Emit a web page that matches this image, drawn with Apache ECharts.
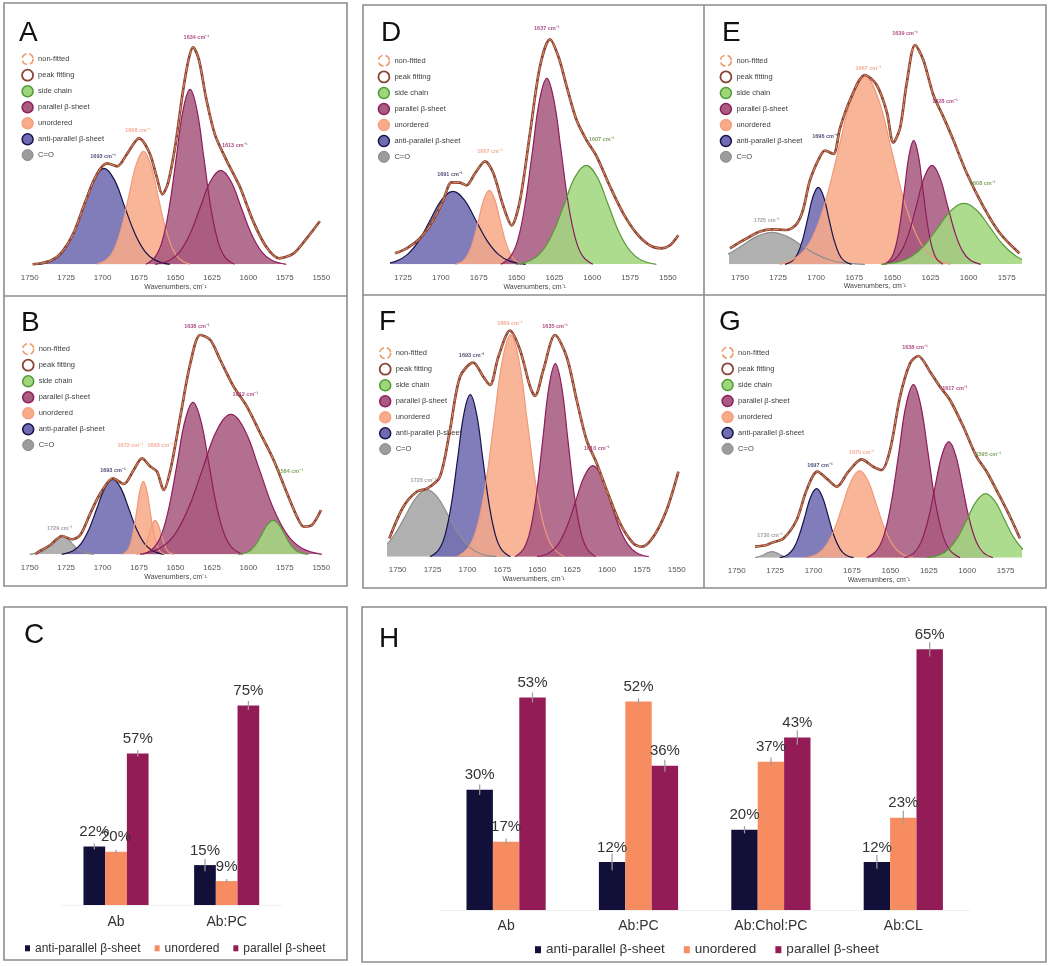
<!DOCTYPE html>
<html><head><meta charset="utf-8">
<script src="https://cdn.jsdelivr.net/npm/echarts@6/dist/echarts.min.js"></script>
<style>html,body{margin:0;padding:0;background:#fff}#chart{width:1050px;height:966px}</style>
</head><body><div id="chart"></div>
<script>
// ---------------- DATA: spectra ([wavenumber, intensity]) ----------------
const ticksAB = [1750,1725,1700,1675,1650,1625,1600,1575,1550];
const ticksD = [1725,1700,1675,1650,1625,1600,1575,1550];
const ticksE = [1750,1725,1700,1675,1650,1625,1600,1575];
const ticksF = [1750,1725,1700,1675,1650,1625,1600,1575,1550];
const ticksG = [1750,1725,1700,1675,1650,1625,1600,1575];

const A_anti = [[1744,0],[1734,4.2],[1727,13],[1720,31.2],[1713,58.2],[1706,84.7],[1699,96],[1692,84.7],[1685,58.2],[1678,31.2],[1671,13],[1664,4.2],[1654,0]];
const A_unord = [[1704,0],[1697,5],[1692,15.3],[1687,36.7],[1682,68.5],[1677,99.7],[1672,113],[1667,99.7],[1662,68.5],[1657,36.7],[1652,15.3],[1647,5],[1640,0]];
const A_par1 = [[1670.4,0],[1663.8,7.7],[1659,23.7],[1654.3,56.8],[1649.5,106.1],[1644.8,154.4],[1640,175],[1635.3,154.4],[1630.5,106.1],[1625.8,56.8],[1621,23.7],[1616.3,7.7],[1609.6,0]];
const A_par2 = [[1664,0],[1654,4.1],[1647,12.7],[1640,30.5],[1633,57],[1626,83],[1619,94],[1612,83],[1605,57],[1598,30.5],[1591,12.7],[1584,4.1],[1574,0]];
const A_total = [[1748,0],[1742,1],[1735,4],[1728,12],[1720,31],[1712,62],[1704,90],[1697,101],[1690,98],[1683,111],[1675,126],[1668,112],[1663,88],[1659,70],[1655,82],[1650,120],[1645,172],[1641,205],[1638,217],[1634,205],[1629,166],[1623,130],[1615,104],[1606,78],[1597,44],[1588,18],[1579,6],[1569,11],[1560,26],[1551,43]];
const A_labels = [[1699.7,108,'1693 cm⁻¹','anti'],[1675.7,134,'1668 cm⁻¹','unord'],[1635.7,227,'1634 cm⁻¹','par'],[1609.4,119,'1613 cm⁻¹','par']];

const B_co = [[1750,0],[1742,2.4],[1738.5,5.8],[1735,10.9],[1731.5,15.9],[1728,18],[1724.5,15.9],[1721,10.9],[1717.5,5.8],[1714,2.4],[1706,0]];
const B_anti = [[1728,0],[1720.5,3.3],[1715,10.1],[1709.5,24.4],[1704,45.5],[1698.5,66.2],[1693,75],[1687.5,66.2],[1682,45.5],[1676.5,24.4],[1671,10.1],[1665.5,3.3],[1658,0]];
const B_unord1 = [[1686.4,0],[1683.3,3.2],[1681,9.9],[1678.8,23.7],[1676.5,44.3],[1674.3,64.4],[1672,73],[1669.8,64.4],[1667.5,44.3],[1665.3,23.7],[1663,9.9],[1660.8,3.2],[1657.6,0]];
const B_unord2 = [[1677,0],[1674,1.5],[1672,4.6],[1670,11.1],[1668,20.8],[1666,30],[1664,34],[1662,30],[1660,20.8],[1658,11.1],[1656,4.6],[1654,1.5],[1651,0]];
const B_par1 = [[1672.2,0],[1664.8,6.7],[1659.4,20.6],[1654.1,49.4],[1648.7,92.2],[1643.4,134.1],[1638,152],[1632.7,134.1],[1627.3,92.2],[1622,49.4],[1616.6,20.6],[1611.3,6.7],[1603.8,0]];
const B_par2 = [[1674.4,0],[1660.8,6.1],[1651,18.9],[1641.3,45.5],[1631.5,84.9],[1621.8,123.6],[1612,140],[1602.3,123.6],[1592.5,84.9],[1582.8,45.5],[1573,18.9],[1563.3,6.1],[1549.6,0]];
const B_side = [[1607,0],[1601.8,1.5],[1598,4.6],[1594.3,11.1],[1590.5,20.8],[1586.8,30],[1583,34],[1579.3,30],[1575.5,20.8],[1571.8,11.1],[1568,4.6],[1564.3,1.5],[1559,0]];
const B_total = [[1746,0],[1743.8,2.7],[1735.8,9.3],[1727.8,18.3],[1721,15],[1715.3,19.3],[1708.4,41],[1701.5,61],[1692.9,76],[1685.5,70.3],[1678.7,84.3],[1673,96],[1667.3,87.7],[1662.7,82.7],[1658.1,64.3],[1653.5,84.3],[1646.7,137.7],[1639.8,191],[1633,219.3],[1626.1,214.3],[1619.3,194.3],[1610.1,167.7],[1601,147.7],[1591.8,121],[1582.7,94.3],[1573.5,61],[1566.7,37.7],[1562.1,27.7],[1556.4,29.3],[1550.2,44.3]];
const B_labels = [[1729.4,26,'1729 cm⁻¹','co'],[1692.9,84.3,'1693 cm⁻¹','anti'],[1681,109.3,'1672 cm⁻¹','unord'],[1660.4,109.3,'1663 cm⁻¹','unord'],[1635.3,227.7,'1638 cm⁻¹','par'],[1602.1,160.3,'1612 cm⁻¹','par'],[1571.3,83.3,'1584 cm⁻¹','side']];

const D_anti = [[1740,0],[1729.5,3.2],[1722,9.9],[1714.5,23.7],[1707,44.3],[1699.5,64.4],[1692,73],[1684.5,64.4],[1677,44.3],[1669.5,23.7],[1662,9.9],[1654.5,3.2],[1644,0]];
const D_unord = [[1690.4,0],[1685.5,3.2],[1682,10],[1678.5,24],[1675,44.9],[1671.5,65.3],[1668,74],[1664.5,65.3],[1661,44.9],[1657.5,24],[1654,10],[1650.5,3.2],[1645.6,0]];
const D_par = [[1660.4,0],[1653.8,8.2],[1649,25.2],[1644.3,60.4],[1639.5,112.8],[1634.8,164.1],[1630,186],[1625.3,164.1],[1620.5,112.8],[1615.8,60.4],[1611,25.2],[1606.3,8.2],[1599.6,0]];
const D_side = [[1650.4,0],[1640.3,4.3],[1633,13.4],[1625.8,32.1],[1618.5,60],[1611.3,87.4],[1604,99],[1596.8,87.4],[1589.5,60],[1582.3,32.1],[1575,13.4],[1567.8,4.3],[1557.6,0]];
const D_total = [[1730.3,11],[1722.6,16],[1713.8,26],[1705,44],[1698.4,64],[1692.9,82],[1687.4,81.7],[1683,79],[1677.4,91],[1670.8,103],[1665.3,91],[1658.7,58],[1653.2,39],[1647.7,64],[1641.1,131],[1634.5,198],[1627.9,225],[1622.4,208],[1616.9,178],[1610.3,144],[1603.7,124],[1597.1,108],[1588.3,78],[1579.5,51],[1570.7,31],[1561.9,19],[1554.2,16],[1548.6,19],[1543.1,29]];
const D_labels = [[1694,90,'1691 cm⁻¹','anti'],[1667.5,113,'1667 cm⁻¹','unord'],[1630,236,'1637 cm⁻¹','par'],[1593.8,125,'1607 cm⁻¹','side']];

const E_co = [[1790,0],[1776.5,1.4],[1767,4.3],[1757.5,10.4],[1748,19.4],[1738.5,28.2],[1729,32],[1719.5,28.2],[1710,19.4],[1700.5,10.4],[1691,4.3],[1681.5,1.4],[1668,0]];
const E_anti = [[1720.4,0],[1715.6,3.4],[1712.2,10.4],[1708.8,25],[1705.4,46.7],[1702,68],[1698.6,77],[1695.2,68],[1691.8,46.7],[1688.4,25],[1685,10.4],[1681.6,3.4],[1676.8,0]];
const E_unord = [[1724,0],[1711.8,8.3],[1703,25.4],[1694.3,61],[1685.5,114],[1676.8,165.9],[1668,188],[1659.3,165.9],[1650.5,114],[1641.8,61],[1633,25.4],[1624.3,8.3],[1612,0]];
const E_par1 = [[1655.2,0],[1651,5.4],[1648,16.8],[1645,40.3],[1642,75.2],[1639,109.4],[1636,124],[1633,109.4],[1630,75.2],[1627,40.3],[1624,16.8],[1621,5.4],[1616.8,0]];
const E_par2 = [[1656,0],[1649,4.3],[1644,13.4],[1639,32.1],[1634,60],[1629,87.4],[1624,99],[1619,87.4],[1614,60],[1609,32.1],[1604,13.4],[1599,4.3],[1592,0]];
const E_side = [[1657.4,0],[1645.5,2.7],[1637,8.3],[1628.5,19.8],[1620,37],[1611.5,53.8],[1603,61],[1594.5,53.8],[1586,37],[1577.5,19.8],[1569,8.3],[1560.5,2.7],[1548.6,0]];
const E_total = [[1756.6,16],[1747.8,24],[1736.9,32.7],[1729.2,35],[1719.4,34.3],[1713,40],[1708.5,55],[1704.1,84],[1697.5,107.7],[1694.2,113.7],[1688.7,110.3],[1684.4,136],[1677.8,164.3],[1668,189.3],[1660.3,179.3],[1653.7,152.7],[1649.4,121.7],[1645,136],[1640.6,181],[1635.1,219.3],[1629.7,204.3],[1623.1,169.3],[1616.6,147.7],[1610,124.3],[1601.2,91],[1590.3,57.7],[1579.4,31],[1566.7,11]];
const E_labels = [[1732.5,43.7,'1725 cm⁻¹','co'],[1694.2,127.7,'1696 cm⁻¹','anti'],[1665.8,196,'1667 cm⁻¹','unord'],[1641.7,231,'1639 cm⁻¹','par'],[1615.5,162.7,'1628 cm⁻¹','par'],[1590.7,81,'1608 cm⁻¹','side']];

const F_co = [[1778.6,0],[1767.8,2.9],[1760,9.1],[1752.3,21.8],[1744.5,40.6],[1736.8,59.1],[1729,67],[1721.3,59.1],[1713.5,40.6],[1705.8,21.8],[1698,9.1],[1690.3,2.9],[1679.4,0]];
const F_anti = [[1726.8,0],[1720.5,7.1],[1716,21.9],[1711.5,52.6],[1707,98.3],[1702.5,143],[1698,162],[1693.5,143],[1689,98.3],[1684.5,52.6],[1680,21.9],[1675.5,7.1],[1669.2,0]];
const F_unord = [[1707.4,0],[1699,9.7],[1693,30],[1687,72.1],[1681,134.6],[1675,195.9],[1669,222],[1663,195.9],[1657,134.6],[1651,72.1],[1645,30],[1639,9.7],[1630.6,0]];
const F_par1 = [[1665.8,0],[1659.5,8.5],[1655,26.1],[1650.5,62.7],[1646,117.1],[1641.5,170.3],[1637,193],[1632.5,170.3],[1628,117.1],[1623.5,62.7],[1619,26.1],[1614.5,8.5],[1608.2,0]];
const F_par2 = [[1650,0],[1641.3,4],[1635,12.3],[1628.8,29.5],[1622.5,55.2],[1616.3,80.3],[1610,91],[1603.8,80.3],[1597.5,55.2],[1591.3,29.5],[1585,12.3],[1578.8,4],[1570,0]];
const F_total = [[1756,18.3],[1745.9,50],[1736.4,65],[1728.7,68.3],[1719.7,80],[1712.5,126.7],[1705.3,180],[1695.8,194],[1688.6,180],[1683.8,171.7],[1677.8,200],[1669.5,226],[1662.3,206.7],[1655.1,170],[1651.6,160.7],[1645.6,186.7],[1637.2,221.7],[1628.9,200],[1621.7,156.7],[1614.6,116.7],[1607.3,93.3],[1600.2,66.7],[1590.6,33.3],[1581.1,13.3],[1575.1,10],[1566.7,20],[1557.2,46.7],[1548.8,85]];
const F_labels = [[1731.6,76.7,'1723 cm⁻¹','co'],[1697,201.7,'1693 cm⁻¹','anti'],[1669.5,233.3,'1669 cm⁻¹','unord'],[1637.2,230,'1635 cm⁻¹','par'],[1607.3,108.3,'1610 cm⁻¹','par']];

const G_co = [[1738,0],[1733,2.5],[1730,4.8],[1727,6],[1724,4.8],[1721,2.5],[1716,0]];
const G_anti = [[1722,0],[1716.8,3],[1713,9.3],[1709.3,22.4],[1705.5,41.9],[1701.8,60.9],[1698,69],[1694.3,60.9],[1690.5,41.9],[1686.8,22.4],[1683,9.3],[1679.3,3],[1674,0]];
const G_unord = [[1705.2,0],[1697.5,3.8],[1692,11.8],[1686.5,28.2],[1681,52.8],[1675.5,76.8],[1670,87],[1664.5,76.8],[1659,52.8],[1653.5,28.2],[1648,11.8],[1642.5,3.8],[1634.8,0]];
const G_par1 = [[1665.4,0],[1658.8,7.6],[1654,23.4],[1649.3,56.2],[1644.5,104.9],[1639.8,152.7],[1635,173],[1630.3,152.7],[1625.5,104.9],[1620.8,56.2],[1616,23.4],[1611.3,7.6],[1604.6,0]];
const G_par2 = [[1640.8,0],[1634.5,5.1],[1630,15.7],[1625.5,37.7],[1621,70.4],[1616.5,102.4],[1612,116],[1607.5,102.4],[1603,70.4],[1598.5,37.7],[1594,15.7],[1589.5,5.1],[1583.2,0]];
const G_side = [[1626.4,0],[1618,2.8],[1612,8.7],[1606,20.8],[1600,38.8],[1594,56.5],[1588,64],[1582,56.5],[1576,38.8],[1570,20.8],[1564,8.7],[1558,2.8],[1549.6,0]];
const G_total = [[1738.1,11],[1730.5,12.7],[1727.2,15],[1719.6,19.3],[1711,37.7],[1704.5,67.7],[1697.5,86],[1690.4,77.7],[1684.9,71],[1677.3,86],[1668.7,98.3],[1661.1,91],[1655.7,87.7],[1650.2,107.7],[1643.7,161],[1637.2,194.3],[1631.8,201.7],[1624.2,186],[1617.7,171],[1611.2,157.7],[1602.5,131],[1593.9,101],[1587.3,86],[1578.7,61],[1571.1,37.7],[1565.7,19.3]];
const G_labels = [[1728.3,22.7,'1730 cm⁻¹','co'],[1695.8,92,'1697 cm⁻¹','anti'],[1668.7,105,'1670 cm⁻¹','unord'],[1634,210.3,'1638 cm⁻¹','par'],[1608,169.3,'1617 cm⁻¹','par'],[1586.3,103.3,'1595 cm⁻¹','side']];

// ---------------- DATA: bar charts (%) ----------------
const C_categories = ['Ab','Ab:PC'];
const C_anti = [22, 15];
const C_unord = [20, 9];
const C_par = [57, 75];
const C_anti_err = [1.1, 2.3];
const C_unord_err = [0.8, 0.8];
const C_par_err = [1.2, 1.7];

const H_categories = ['Ab','Ab:PC','Ab:Chol:PC','Ab:CL'];
const H_anti = [30, 12, 20, 12];
const H_unord = [17, 52, 37, 23];
const H_par = [53, 36, 43, 65];
const H_anti_err = [1.3, 2.1, 0.9, 1.7];
const H_unord_err = [0.8, 0.8, 1.0, 1.8];
const H_par_err = [1.25, 1.5, 1.8, 1.8];

// ---------------- STYLE / LAYOUT ----------------
const FONT = "'Liberation Sans', Arial, sans-serif";
const KIND = {
  co:    {name:'C=O', area:'#a6a6a6', line:'#8e8e8e', label:'#8a8a8a'},
  anti:  {name:'anti-parallel β-sheet', area:'#6f6bb0', line:'#16134a', label:'#1f1c55'},
  unord: {name:'unordered', area:'#f7ab8a', line:'#f09a7c', label:'#f0967a'},
  par:   {name:'parallel β-sheet', area:'#a95b80', line:'#8d1d5c', label:'#9a2468'},
  side:  {name:'side chain', area:'#a3d77f', line:'#5a9a3c', label:'#5c8c34'}
};
const YMAX = 240;
const panels = [
  {left:29.7, width:291.6, base:264.3, xMin:1550, xMax:1750, ticks:ticksAB, nameGap:19,
   comps:[['anti',A_anti],['unord',A_unord],['par',A_par1],['par',A_par2]], total:A_total, labels:A_labels, legend:[21.2,52.8]},
  {left:29.7, width:291.6, base:554.3, xMin:1550, xMax:1750, ticks:ticksAB, nameGap:19,
   comps:[['co',B_co],['anti',B_anti],['unord',B_unord1],['unord',B_unord2],['par',B_par1],['par',B_par2],['side',B_side]], total:B_total, labels:B_labels, legend:[21.8,342.8]},
  {left:390.9, width:287.6, base:264.3, xMin:1543, xMax:1733, ticks:ticksD, nameGap:19,
   comps:[['anti',D_anti],['unord',D_unord],['par',D_par],['side',D_side]], total:D_total, labels:D_labels, legend:[377.5,54.5]},
  {left:729.3, width:291.1, base:264.3, xMin:1566, xMax:1757, ticks:ticksE, nameGap:17,
   comps:[['co',E_co],['anti',E_anti],['unord',E_unord],['par',E_par1],['par',E_par2],['side',E_side]], total:E_total, labels:E_labels, legend:[719.5,54.5]},
  {left:387.9, width:291.6, base:556.7, xMin:1548, xMax:1757, ticks:ticksF, nameGap:19,
   comps:[['co',F_co],['anti',F_anti],['unord',F_unord],['par',F_par1],['par',F_par2]], total:F_total, labels:F_labels, legend:[378.8,346.8]},
  {left:736.7, width:284.3, base:557.7, xMin:1565, xMax:1750, ticks:ticksG, nameGap:19,
   comps:[['co',G_co],['anti',G_anti],['unord',G_unord],['par',G_par1],['par',G_par2],['side',G_side]], total:G_total, labels:G_labels, legend:[721.2,346.5]}
];

const spectrumLegendData = [
  {name:'non-fitted', icon:'circle', itemStyle:{color:'#ffffff', borderColor:'#ee9a6c', borderWidth:1.5, borderType:'dashed'}},
  {name:'peak fitting', icon:'circle', itemStyle:{color:'#ffffff', borderColor:'#8b4434', borderWidth:1.8, borderType:'solid'}},
  {name:'side chain', icon:'circle', itemStyle:{color:'#9fd67c', borderColor:'#4f9a33', borderWidth:1.5, borderType:'solid'}},
  {name:'parallel β-sheet', icon:'circle', itemStyle:{color:'#a95b80', borderColor:'#8d1d5c', borderWidth:1.5, borderType:'solid'}},
  {name:'unordered', icon:'circle', itemStyle:{color:'#f7ab8a', borderColor:'#f5a080', borderWidth:1.5, borderType:'solid'}},
  {name:'anti-parallel β-sheet', icon:'circle', itemStyle:{color:'#6f6bb0', borderColor:'#16134a', borderWidth:1.5, borderType:'solid'}},
  {name:'C=O', icon:'circle', itemStyle:{color:'#9c9c9c', borderColor:'#8a8a8a', borderWidth:1, borderType:'solid'}}
];

const grids = [], xAxes = [], yAxes = [], series = [], legends = [];

panels.forEach((p, i) => {
  grids.push({left:p.left, top:p.base - YMAX, width:p.width, height:YMAX, outerBoundsMode:'none', containLabel:false});
  xAxes.push({gridIndex:i, type:'value', inverse:true, min:p.xMin, max:p.xMax,
    name:'Wavenumbers, cm⁻¹', nameLocation:'middle', nameGap:p.nameGap,
    nameTextStyle:{fontSize:7, color:'#444', fontFamily:FONT},
    axisLine:{show:false}, axisTick:{show:false}, splitLine:{show:false},
    axisLabel:{customValues:p.ticks, formatter:v => String(v), fontSize:8, color:'#555', margin:9, fontFamily:FONT}});
  yAxes.push({gridIndex:i, type:'value', min:0, max:YMAX, show:false});
  p.comps.forEach(([k, d]) => {
    series.push({type:'line', name:KIND[k].name, xAxisIndex:i, yAxisIndex:i, data:d, smooth:0.4,
      symbol:'none', silent:true, lineStyle:{width:0, color:KIND[k].line}, itemStyle:{color:KIND[k].area},
      areaStyle:{color:KIND[k].area, opacity:0.88}, z:2});
  });
  p.comps.forEach(([k, d]) => {
    series.push({type:'line', name:KIND[k].name, xAxisIndex:i, yAxisIndex:i, data:d, smooth:0.4,
      symbol:'none', silent:true, lineStyle:{width:1.2, color:KIND[k].line}, itemStyle:{color:KIND[k].line}, z:3});
  });
  series.push({type:'line', name:'peak fitting', xAxisIndex:i, yAxisIndex:i, data:p.total, smooth:0.3,
    symbol:'none', silent:true, lineStyle:{width:2.7, color:'#8b4434'}, itemStyle:{color:'#8b4434'}, z:4});
  series.push({type:'line', name:'non-fitted', xAxisIndex:i, yAxisIndex:i, data:p.total, smooth:0.3,
    symbol:'none', silent:true, lineStyle:{width:0.8, color:'#f3a472', type:[6,2]}, itemStyle:{color:'#f3a472'}, z:5});
  series.push({type:'scatter', xAxisIndex:i, yAxisIndex:i, symbolSize:1, silent:true, z:6,
    itemStyle:{color:'rgba(0,0,0,0)'},
    data:p.labels.map(l => ({value:[l[0], l[1]], name:l[2], label:{color:KIND[l[3]].label}})),
    label:{show:true, position:'inside', formatter:'{b}', fontSize:5.5, fontWeight:'bold', fontFamily:FONT}});
  legends.push({left:p.legend[0], top:p.legend[1], orient:'vertical', padding:0, itemWidth:11, itemHeight:11, itemGap:3.5,
    selectedMode:false, data:spectrumLegendData, textStyle:{fontSize:7.5, color:'#404040', fontFamily:FONT}});
});

// ---------------- BAR CHARTS ----------------
const BAR_COL = {anti:'#120f38', unord:'#f68c5f', par:'#931c57'};
function errRender(bw, off) {
  return function (params, api) {
    const c = api.value(0), v = api.value(1), e = api.value(2);
    const p0 = api.coord([c, v + e]);
    const p1 = api.coord([c, v - e]);
    const x = p0[0] + off * bw;
    return {type:'line', shape:{x1:x, y1:p0[1], x2:x, y2:p1[1]}, style:{stroke:'#9c9c9c', lineWidth:1.2}};
  };
}
function addBars(gi, cats, vals, errs, bw, labelSize, legendCfg) {
  const names = ['anti-parallel β-sheet','unordered','parallel β-sheet'];
  const keys = ['anti','unord','par'];
  vals.forEach((arr, s) => {
    series.push({type:'bar', name:names[s], xAxisIndex:gi, yAxisIndex:gi, data:arr, barWidth:bw, barGap:'0%',
      silent:true, itemStyle:{color:BAR_COL[keys[s]]}, z:2,
      label:{show:true, position:'top', distance:7, formatter:'{c}%', fontSize:labelSize, color:'#333', fontFamily:FONT}});
  });
  vals.forEach((arr, s) => {
    series.push({type:'custom', xAxisIndex:gi, yAxisIndex:gi, silent:true, z:3,
      encode:{x:0, y:1},
      data:arr.map((v, j) => [j, v, errs[s][j]]),
      renderItem:errRender(bw, s - 1)});
  });
  legends.push(Object.assign({orient:'horizontal', padding:0, selectedMode:false,
    data:names.map((n, s) => ({name:n, icon:'rect', itemStyle:{color:BAR_COL[keys[s]], borderWidth:0}})),
  }, legendCfg));
}

// C
grids.push({left:60.7, top:639, width:221.3, height:266, outerBoundsMode:'none', containLabel:false});
xAxes.push({gridIndex:6, type:'category', data:C_categories, axisTick:{show:false},
  axisLine:{show:true, lineStyle:{color:'#f2f2f2'}}, splitLine:{show:false},
  axisLabel:{fontSize:14, color:'#333', margin:10, fontFamily:FONT}});
yAxes.push({gridIndex:6, type:'value', min:0, max:100, show:false});
addBars(6, C_categories, [C_anti, C_unord, C_par], [C_anti_err, C_unord_err, C_par_err], 21.7, 15,
  {left:25, top:942.3, itemWidth:5, itemHeight:6, itemGap:14, textStyle:{fontSize:12, color:'#333', fontFamily:FONT}});

// H
grids.push({left:439.9, top:629.3, width:529.6, height:280.7, outerBoundsMode:'none', containLabel:false});
xAxes.push({gridIndex:7, type:'category', data:H_categories, axisTick:{show:false},
  axisLine:{show:true, lineStyle:{color:'#eeeeee'}}, splitLine:{show:false},
  axisLabel:{fontSize:14, color:'#333', margin:9, fontFamily:FONT}});
yAxes.push({gridIndex:7, type:'value', min:0, max:70, show:false});
addBars(7, H_categories, [H_anti, H_unord, H_par], [H_anti_err, H_unord_err, H_par_err], 26.4, 15,
  {left:535, top:942.7, itemWidth:6, itemHeight:7, itemGap:19, textStyle:{fontSize:13.5, color:'#333', fontFamily:FONT}});

// ---------------- FRAMES & PANEL LETTERS ----------------
const FR = {fill:'none', stroke:'#8c8c8c', lineWidth:1.6};
const letter = (t, x, y) => ({type:'text', x:x, y:y, silent:true,
  style:{text:t, fontSize:28, fontFamily:FONT, fill:'#111', align:'left', verticalAlign:'middle'}});
const graphic = [
  {type:'rect', silent:true, shape:{x:4, y:3, width:343, height:583}, style:FR},
  {type:'line', silent:true, shape:{x1:4, y1:296, x2:347, y2:296}, style:FR},
  {type:'rect', silent:true, shape:{x:363, y:5, width:683, height:583}, style:FR},
  {type:'line', silent:true, shape:{x1:704, y1:5, x2:704, y2:588}, style:FR},
  {type:'line', silent:true, shape:{x1:363, y1:295, x2:1046, y2:295}, style:FR},
  {type:'rect', silent:true, shape:{x:4, y:607, width:343, height:353}, style:FR},
  {type:'rect', silent:true, shape:{x:362, y:607, width:684, height:355}, style:FR},
  letter('A', 19, 33), letter('B', 21, 323), letter('C', 24, 635), letter('D', 381, 33),
  letter('E', 722, 33), letter('F', 379, 322), letter('G', 719, 322), letter('H', 379, 639)
];

const chart = echarts.init(document.getElementById('chart'), null, {renderer:'canvas'});
chart.setOption({
  animation:false,
  backgroundColor:'#ffffff',
  textStyle:{fontFamily:FONT},
  grid:grids, xAxis:xAxes, yAxis:yAxes, legend:legends, series:series, graphic:graphic
});
</script></body></html>
